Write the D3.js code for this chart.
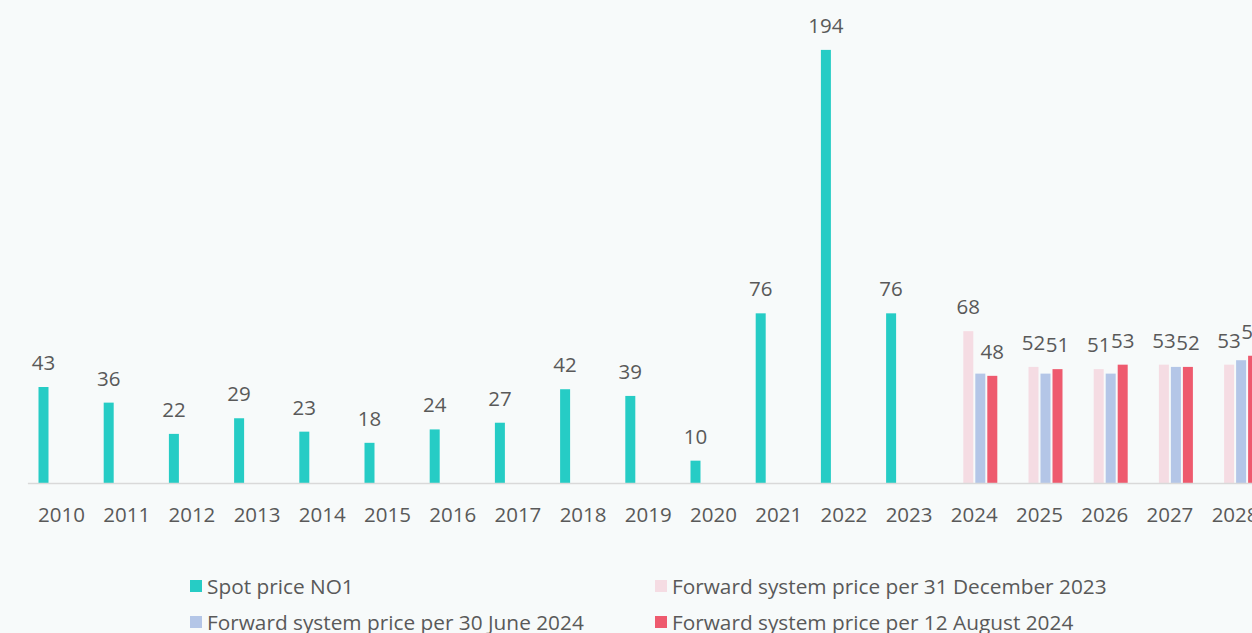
<!DOCTYPE html>
<html>
<head>
<meta charset="UTF-8">
<style>
body, html {
    margin: 0;
    padding: 0;
    width: 100%;
    height: 100%;
    overflow: hidden;
    background-color: #f7fafa;
}
svg text {
    font-family: "Open Sans", "Liberation Sans", sans-serif;
    fill: #595959;
}
</style>
</head>
<body>
<svg id="chart"></svg>
<script src="https://d3js.org/d3.v7.min.js"></script>
<script>
// categories and series
let years = ["2010","2011","2012","2013","2014","2015","2016","2017","2018","2019","2020","2021","2022","2023","2024","2025","2026","2027","2028"];
let seriesKeys = ["spot", "dec23", "jun24", "aug24"];
let seriesNames = ["Spot price NO1", "Forward system price per 31 December 2023", "Forward system price per 30 June 2024", "Forward system price per 12 August 2024"];
let seriesColors = ["#26ccc5", "#f5dce3", "#b4c6e7", "#ee5a6e"];

let spot  = [43, 36, 22, 29, 23, 18, 24, 27, 42, 39, 10, 76, 194, 76, null, null, null, null, null];
let dec23 = [null, null, null, null, null, null, null, null, null, null, null, null, null, null, 68, 52, 51, 53, 53];
let jun24 = [null, null, null, null, null, null, null, null, null, null, null, null, null, null, 49, 49, 49, 52, 55];
let aug24 = [null, null, null, null, null, null, null, null, null, null, null, null, null, null, 48, 51, 53, 52, 57];

// which series get data labels
let labelled = {spot: true, dec23: true, jun24: false, aug24: true};

let width = 1252, height = 633;
let svg = d3.select("#chart").attr("width", width).attr("height", height);

let baseY = 483;
let x = d3.scaleBand().domain(years).range([28.9, 28.9 + years.length * 65.2]).padding(0);
let inner = d3.scaleBand().domain(seriesKeys).range([-24, 24]).paddingInner(1 / 6).paddingOuter(1 / 12);
let y = d3.scaleLinear().domain([0, 200]).range([baseY, 36.5]);

let allSeries = {spot: spot, dec23: dec23, jun24: jun24, aug24: aug24};
let rows = [];
seriesKeys.forEach((k, si) => {
    allSeries[k].forEach((v, i) => {
        if (v != null) rows.push({key: k, year: years[i], value: v, color: seriesColors[si]});
    });
});

let center = yr => x(yr) + x.bandwidth() / 2;

// bars
svg.append("g").selectAll("rect")
    .data(rows)
    .enter()
    .append("rect")
    .attr("x", d => center(d.year) + inner(d.key))
    .attr("width", inner.bandwidth())
    .attr("y", d => y(d.value))
    .attr("height", d => baseY - y(d.value))
    .attr("fill", d => d.color);

// axis line
svg.append("line")
    .attr("x1", x.range()[0] - 1).attr("x2", width)
    .attr("y1", baseY + 0.5).attr("y2", baseY + 0.5)
    .attr("stroke", "#d9d9d9").attr("stroke-width", 1.5);

// year labels
svg.append("g").selectAll("text")
    .data(years)
    .enter()
    .append("text")
    .attr("x", d => center(d))
    .attr("y", baseY + 39)
    .attr("text-anchor", "middle")
    .style("font-size", "20.5px")
    .text(d => d);

// value labels
svg.append("g").selectAll("text")
    .data(rows.filter(d => labelled[d.key]))
    .enter()
    .append("text")
    .attr("x", d => center(d.year) + inner(d.key) + inner.bandwidth() / 2)
    .attr("y", d => y(d.value) - 17)
    .attr("text-anchor", "middle")
    .style("font-size", "20.5px")
    .text(d => d.value);

// legend
let legendPos = [[190, 594], [655, 594], [190, 630], [655, 630]];
let legend = svg.append("g").selectAll("g")
    .data(seriesKeys)
    .enter()
    .append("g")
    .attr("transform", (d, i) => `translate(${legendPos[i][0]}, ${legendPos[i][1]})`);

legend.append("rect")
    .attr("x", 0).attr("y", -14)
    .attr("width", 12).attr("height", 12)
    .attr("fill", (d, i) => seriesColors[i]);

legend.append("text")
    .attr("x", 17).attr("y", 0)
    .style("font-size", "20.8px")
    .text((d, i) => seriesNames[i]);
</script>
</body>
</html>
